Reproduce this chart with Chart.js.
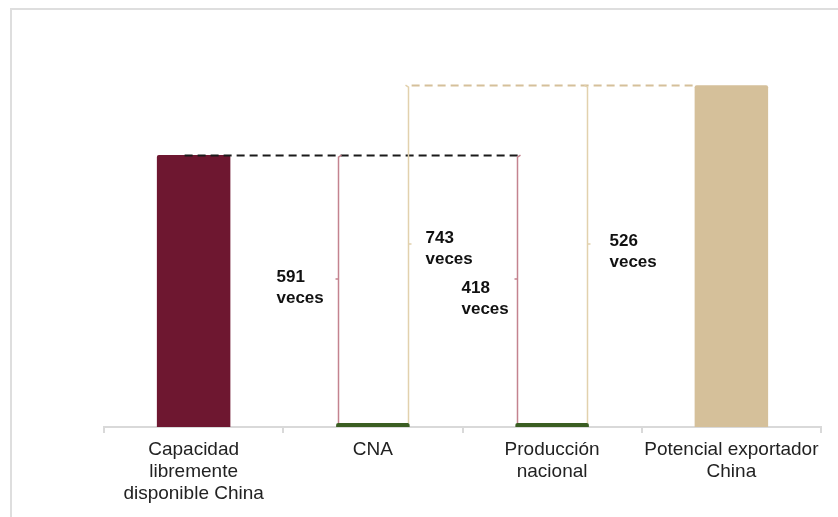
<!DOCTYPE html>
<html>
<head>
<meta charset="utf-8">
<script src="https://cdn.jsdelivr.net/npm/chart.js@4"></script>
<style>
    body { margin: 0; background: #fff; }
    .frame {
        position: absolute; left: 10px; top: 8px; width: 840px; height: 520px;
        border-left: 2px solid #dedede; border-top: 2px solid #dedede;
    }
    .wrap { position: absolute; left: 0; top: 0; width: 838px; height: 517px; }
</style>
</head>
<body>
<div class="frame"></div>
<div class="wrap"><canvas id="chart" width="838" height="517"></canvas></div>
<script>
// Categories and values (CNA = 1 unit, others as multiples)
const categories = [
    ['Capacidad', 'libremente', 'disponible China'],
    'CNA',
    ['Producción', 'nacional'],
    ['Potencial exportador', 'China']
];
const values = [591, 1, 1.41, 743];

// Brackets: from small bar (index) up to reference bar (index), with ratio text
const bracketFrom = [1, 1, 2, 2];
const bracketTo = [0, 3, 0, 3];
const ratioLabels = ['591', '743', '418', '526'];
const ratioUnit = 'veces';

const MAROON = '#6e1730';
const TAN = '#d5c09a';
const GREEN = '#3b5e22';

/**
 * Draws the dashed reference lines, brackets and "veces" labels
 */
const bracketPlugin = {
    id: 'brackets',
    afterDatasetsDraw(chart) {
        const ctx = chart.ctx;
        const y = chart.scales.y;
        const bars = chart.getDatasetMeta(0).data;
        const edge = (i, side) => bars[i].x + side * bars[i].width / 2;

        ctx.save();
        // dashed reference lines
        ctx.setLineDash([8, 5]);
        ctx.lineWidth = 2;
        ctx.strokeStyle = '#1a1a1a';
        let yy = Math.round(y.getPixelForValue(values[0])) + 0.5;
        ctx.beginPath();
        ctx.moveTo(bars[0].x - 9, yy);
        ctx.lineTo(edge(2, -1) + 3, yy);
        ctx.stroke();

        ctx.strokeStyle = TAN;
        yy = Math.round(y.getPixelForValue(values[3])) + 0.5;
        ctx.beginPath();
        ctx.moveTo(edge(1, 1) + 2, yy);
        ctx.lineTo(edge(3, -1), yy);
        ctx.stroke();
        ctx.setLineDash([]);

        // brackets
        ctx.lineWidth = 1.5;
        bracketFrom.forEach((from, k) => {
            const to = bracketTo[k];
            const maroon = to === 0;
            const side = maroon ? -1 : 1;
            const x = Math.round(edge(from, side) - side * 2) + 0.5;
            const yTop = y.getPixelForValue(values[to]);
            const yBot = bars[from].y;
            const yMid = (yTop + yBot) / 2;
            ctx.strokeStyle = maroon ? '#c4838f' : '#e2d1ad';
            ctx.beginPath();
            ctx.moveTo(x - side * 3, yTop);
            ctx.lineTo(x, yTop + 2);
            ctx.lineTo(x, yBot);
            ctx.moveTo(x, yMid - 10);
            ctx.lineTo(x + side * 3, yMid - 10);
            ctx.stroke();

            // label
            ctx.fillStyle = '#111';
            ctx.font = 'bold 17px "Liberation Sans", Arial, sans-serif';
            ctx.textBaseline = 'top';
            ctx.textAlign = 'left';
            let lx, ly;
            if (k === 0) { lx = x - 62; ly = yMid - 20; }
            else if (k === 1) { lx = x + 17; ly = yMid - 24; }
            else if (k === 2) { lx = x - 56; ly = yMid - 9; }
            else { lx = x + 22; ly = yMid - 21; }
            ctx.fillText(ratioLabels[k], lx, ly);
            ctx.fillText(ratioUnit, lx, ly + 21);
        });
        ctx.restore();
    }
};

new Chart(document.getElementById('chart'), {
    type: 'bar',
    data: {
        labels: categories,
        datasets: [{
            data: values,
            backgroundColor: [MAROON, GREEN, GREEN, TAN],
            borderRadius: 2,
            borderSkipped: 'bottom',
            minBarLength: 4,
            barPercentage: 0.41,
            categoryPercentage: 1
        }]
    },
    options: {
        responsive: false,
        animation: false,
        devicePixelRatio: 1,
        layout: { padding: { left: 104, right: 17, top: 59, bottom: 6 } },
        plugins: {
            legend: { display: false },
            tooltip: { enabled: false }
        },
        scales: {
            y: { display: false, min: 0, max: 800 },
            x: {
                offset: true,
                grid: {
                    offset: true,
                    drawOnChartArea: false,
                    tickLength: 6,
                    color: '#d9d9d9',
                    lineWidth: 2
                },
                border: { color: '#d9d9d9', width: 2 },
                ticks: {
                    color: '#222',
                    padding: 6,
                    maxRotation: 0,
                    font: { family: '"Liberation Sans", Arial, sans-serif', size: 19, lineHeight: 1.16 }
                }
            }
        }
    },
    plugins: [bracketPlugin]
});
</script>
</body>
</html>
